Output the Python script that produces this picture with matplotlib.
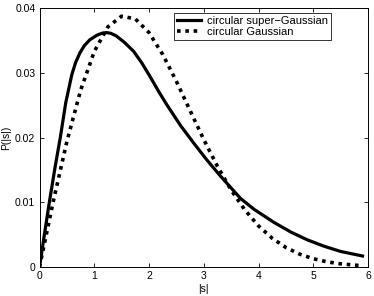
import matplotlib
matplotlib.use("Agg")
import matplotlib.pyplot as plt

# values
x_super = [0, 0.1, 0.18, 0.28, 0.38, 0.48, 0.59, 0.66, 0.74, 0.82, 0.92, 1.05, 1.14,
           1.22, 1.3, 1.4, 1.55, 1.72, 1.87, 2.02, 2.17, 2.33, 2.58, 2.82, 3.06,
           3.31, 3.67, 3.92, 4.28, 4.59, 4.89, 5.2, 5.5, 5.9]
y_super = [0, 0.0056, 0.0100, 0.0152, 0.0200, 0.0254, 0.0297, 0.0316, 0.0331, 0.0342,
           0.0351, 0.0358, 0.0361, 0.0362, 0.0361, 0.0357, 0.0347, 0.0333, 0.0315,
           0.0294, 0.0272, 0.0250, 0.0218, 0.0191, 0.0165, 0.0140, 0.0106, 0.0089,
           0.0069, 0.0054, 0.0042, 0.0032, 0.0024, 0.0017]

x_gauss = [0, 0.25, 0.5, 0.75, 1.0, 1.25, 1.5, 1.75, 2.0, 2.25, 2.5, 2.75, 3.0, 3.25,
           3.5, 3.75, 4.0, 4.25, 4.5, 4.75, 5.0, 5.25, 5.5, 5.75, 5.9]
y_gauss = [0, 0.01006, 0.01937, 0.02727, 0.03327, 0.03710, 0.03873, 0.03832, 0.03620,
           0.03283, 0.02868, 0.02416, 0.01969, 0.01554, 0.01189, 0.00882, 0.00635,
           0.00444, 0.00302, 0.00199, 0.00128, 0.00080, 0.00049, 0.00029, 0.00022]

labels = ["circular super\u2212Gaussian", "circular Gaussian"]
x_ticks = [0, 1, 2, 3, 4, 5, 6]
y_ticks = [0, 0.01, 0.02, 0.03, 0.04]
y_ticklabels = ["0", "0.01", "0.02", "0.03", "0.04"]

plt.rcParams['font.family'] = ['Liberation Sans', 'DejaVu Sans']

fig = plt.figure(figsize=(3.74, 2.96), dpi=100)
ax = fig.add_axes([39.5/374, 1 - 267/296, (368 - 39.5)/374, (267 - 8)/296])

ax.plot(x_super, y_super, color='black', lw=2.3, solid_joinstyle='round',
        label=labels[0])
ax.plot(x_gauss, y_gauss, color='black', lw=2.6, linestyle=(0, (1.0, 1.3)),
        dash_capstyle='butt', label=labels[1])

ax.set_xlim(0, 6)
ax.set_ylim(0, 0.04)
ax.set_xticks(x_ticks)
ax.set_xticklabels([str(t) for t in x_ticks])
ax.set_yticks(y_ticks)
ax.set_yticklabels(y_ticklabels)
ax.tick_params(direction='in', length=3, width=0.6, labelsize=7.5,
               top=True, right=True, pad=3)
for s in ax.spines.values():
    s.set_linewidth(0.7)

ax.set_xlabel("|s|", fontsize=7.5, labelpad=2)
ax.set_ylabel("P(|s|)", fontsize=7.5, labelpad=3)

leg = ax.legend(loc='upper left', bbox_to_anchor=(174/374, 1 - 13/296),
                bbox_transform=fig.transFigure, fontsize=8, frameon=True,
                fancybox=False, edgecolor='black', handlelength=2.2,
                handletextpad=0.5, borderpad=0.25, labelspacing=0.12,
                borderaxespad=0)
leg.get_frame().set_linewidth(0.7)

fig.savefig("out.png", dpi=100)
